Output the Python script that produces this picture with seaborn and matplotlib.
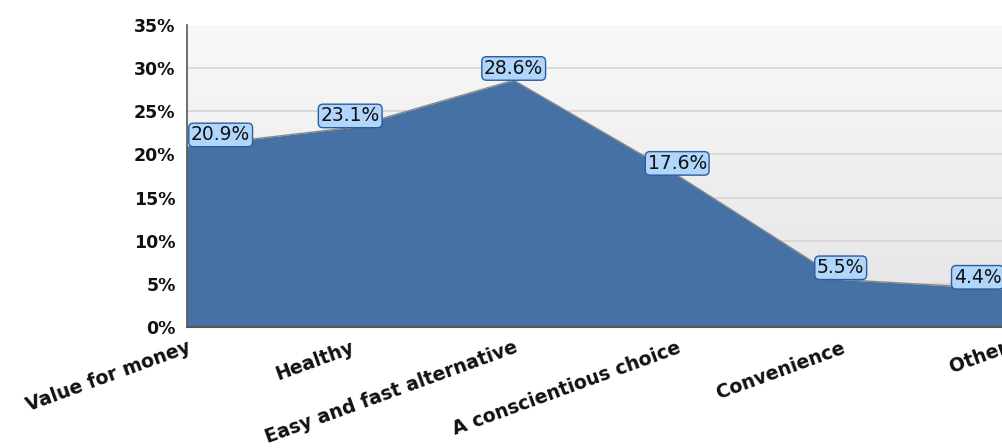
import numpy as np
import pandas as pd
import matplotlib
matplotlib.use("Agg")
import matplotlib.pyplot as plt
from matplotlib.colors import LinearSegmentedColormap
import seaborn as sns

categories = ["Value for money", "Healthy", "Easy and fast alternative",
              "A conscientious choice", "Convenience", "Other"]
shares = [20.9, 23.1, 28.6, 17.6, 5.5, 4.4]
y_ticks = [0, 5, 10, 15, 20, 25, 30, 35]

df = pd.DataFrame({"reason": categories, "share": shares, "pos": range(len(categories))})

sns.set_style("white")
plt.rcParams["font.family"] = ["DejaVu Sans"]

fig = plt.figure(figsize=(10.02, 4.48), dpi=100)
left_px, step_px = 186.7, 163.5
width_px = step_px * (len(categories) - 1)
ax = fig.add_axes([left_px / 1002, 121 / 448, width_px / 1002, 302 / 448])

# soft vertical gradient behind the plot: light at the top, greyer at the bottom
grad = np.linspace(1, 0, 256).reshape(-1, 1)
cmap = LinearSegmentedColormap.from_list("bg", ["#f9f9f9", "#e4e4e4"])
ax.imshow(grad, aspect="auto", cmap=cmap, extent=[0, 5, 0, 35],
          origin="lower", zorder=0)

for t in y_ticks[1:-1]:
    ax.axhline(t, color="#d2d2d2", lw=1.1, zorder=1)

fill_color = "#4571a5"
ax.fill_between(df["pos"], df["share"], 0, color=fill_color, zorder=2, lw=0)
sns.lineplot(data=df, x="pos", y="share", ax=ax, color="#8a8a8a", lw=1.0,
             zorder=3, legend=False)

ax.set_xlim(0, 5)
ax.set_ylim(0, 35)
ax.set_yticks(y_ticks)
ax.set_yticklabels([f"{t}%" for t in y_ticks], fontsize=12.5, fontweight="bold",
                   color="#111111")
ax.set_xticks(df["pos"])
ax.set_xticklabels(categories, rotation=20, ha="right", rotation_mode="anchor",
                   fontsize=13.6, fontweight="bold", color="#111111")
ax.set_xlabel("")
ax.set_ylabel("")
ax.tick_params(axis="both", direction="out", length=5, width=1, color="#555555")
ax.tick_params(axis="x", pad=3)
ax.tick_params(axis="y", pad=3)

for side in ("top", "right"):
    ax.spines[side].set_visible(False)
ax.spines["left"].set_color("#555555")
ax.spines["bottom"].set_color("#555555")
ax.spines["left"].set_linewidth(1.2)
ax.spines["bottom"].set_linewidth(1.5)
ax.spines["left"].set_zorder(5)
ax.spines["bottom"].set_zorder(5)

# value labels sit on top of each vertex, kept inside the plot area
label_size = 13.5
pad = 0.12
pad_pt = pad * label_size
n = len(categories)
for i, v in enumerate(shares):
    if i == 0:
        ha, dx = "left", pad_pt + 1.5
    elif i == n - 1:
        ha, dx = "right", -2
    else:
        ha, dx = "center", 0
    ax.annotate(f"{v}%", xy=(i, v), xytext=(dx, pad_pt), textcoords="offset points",
                ha=ha, va="bottom", fontsize=label_size, color="#111111", zorder=6,
                bbox=dict(boxstyle=f"round,pad={pad},rounding_size=0.25",
                          fc="#b0d6fb", ec="#2b5c9c", lw=1.0),
                annotation_clip=False)

fig.savefig("out.png", dpi=100)
